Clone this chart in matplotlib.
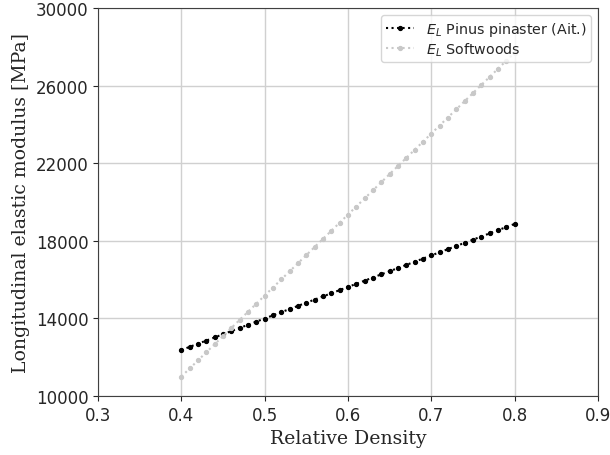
import matplotlib
matplotlib.use("Agg")
import matplotlib.pyplot as plt

# relative density (step 0.01)
density = [0.40, 0.41, 0.42, 0.43, 0.44, 0.45, 0.46, 0.47, 0.48, 0.49,
           0.50, 0.51, 0.52, 0.53, 0.54, 0.55, 0.56, 0.57, 0.58, 0.59,
           0.60, 0.61, 0.62, 0.63, 0.64, 0.65, 0.66, 0.67, 0.68, 0.69,
           0.70, 0.71, 0.72, 0.73, 0.74, 0.75, 0.76, 0.77, 0.78, 0.79,
           0.80]

# E_L Pinus pinaster (Ait.) [MPa]
el_pinaster = [12370, 12533, 12695, 12858, 13020, 13183, 13345, 13508, 13670, 13833,
               13995, 14158, 14320, 14483, 14645, 14808, 14970, 15133, 15295, 15458,
               15620, 15783, 15945, 16108, 16270, 16433, 16595, 16758, 16920, 17083,
               17245, 17408, 17570, 17733, 17895, 18058, 18220, 18383, 18545, 18708,
               18870]

# E_L Softwoods [MPa]
el_softwoods = [11000, 11418, 11835, 12253, 12670, 13088, 13505, 13923, 14340, 14758,
                15175, 15593, 16010, 16428, 16845, 17263, 17680, 18098, 18515, 18933,
                19350, 19768, 20185, 20603, 21020, 21438, 21855, 22273, 22690, 23108,
                23525, 23943, 24360, 24778, 25195, 25613, 26030, 26448, 26865, 27283,
                27700]

y_ticks = [10000, 14000, 18000, 22000, 26000, 30000]

txt_color = "#262626"

fig, ax = plt.subplots(figsize=(6.1, 4.56), dpi=100)
fig.subplots_adjust(left=0.1607, right=0.980, top=0.980, bottom=0.1294)

ax.plot(density, el_pinaster, linestyle=":", marker="o", markersize=2.8,
        color="black", label=r"$E_L$ Pinus pinaster (Ait.)")
ax.plot(density, el_softwoods, linestyle=":", marker="o", markersize=2.8,
        color="#c8c8c8", label=r"$E_L$ Softwoods")

ax.set_xlim(0.3, 0.9)
ax.set_ylim(10000, 30000)
ax.set_yticks(y_ticks)
ax.tick_params(labelsize=12, colors=txt_color)
for sp in ax.spines.values():
    sp.set_color("#404040")
ax.grid(color="#d0d0d0", linewidth=1)
ax.set_axisbelow(True)

ax.set_xlabel("Relative Density", family="DejaVu Serif", fontsize=13.6, color=txt_color)
ax.set_ylabel("Longitudinal elastic modulus [MPa]", family="DejaVu Serif",
              fontsize=13.6, color=txt_color)
leg = ax.legend(loc="upper right", fontsize=10.3, labelspacing=0.2, borderpad=0.3)
for t in leg.get_texts():
    t.set_color(txt_color)

plt.savefig("out.png", dpi=100)
